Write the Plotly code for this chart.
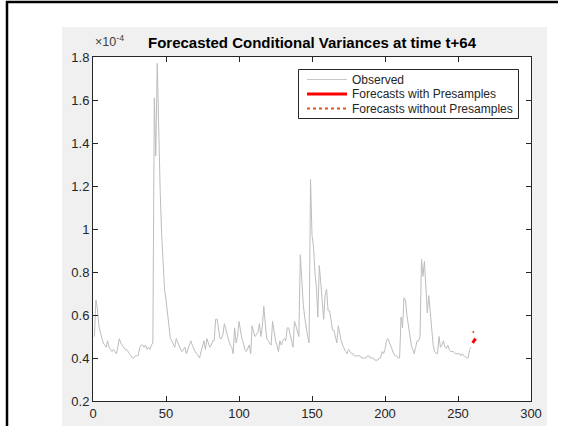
import plotly.graph_objects as go

# Observed conditional variances (units of 1e-4), t = 1..259
observed = [
    0.50, 0.67, 0.63, 0.55, 0.52, 0.49, 0.47, 0.46, 0.45, 0.48,
    0.45, 0.44, 0.43, 0.44, 0.43, 0.42, 0.45, 0.49, 0.47, 0.46,
    0.45, 0.44, 0.44, 0.43, 0.42, 0.41, 0.40, 0.40, 0.41, 0.41,
    0.41, 0.45, 0.46, 0.46, 0.45, 0.46, 0.44, 0.45, 0.44, 0.46,
    0.47, 1.61, 1.34, 1.77, 1.45, 1.18, 0.98, 0.82, 0.72, 0.67,
    0.60, 0.53, 0.49, 0.48, 0.46, 0.45, 0.49, 0.47, 0.45, 0.44,
    0.43, 0.44, 0.45, 0.42, 0.44, 0.45, 0.48, 0.46, 0.44, 0.43,
    0.42, 0.41, 0.40, 0.43, 0.45, 0.48, 0.44, 0.49, 0.47, 0.45,
    0.46, 0.48, 0.48, 0.58, 0.58, 0.52, 0.49, 0.49, 0.51, 0.56,
    0.53, 0.51, 0.48, 0.46, 0.45, 0.42, 0.54, 0.47, 0.50, 0.57,
    0.52, 0.49, 0.47, 0.44, 0.43, 0.45, 0.46, 0.42, 0.55, 0.52,
    0.50, 0.51, 0.52, 0.56, 0.50, 0.55, 0.64, 0.56, 0.49, 0.48,
    0.47, 0.46, 0.57, 0.51, 0.48, 0.46, 0.43, 0.48, 0.46, 0.48,
    0.49, 0.48, 0.54, 0.54, 0.50, 0.48, 0.45, 0.57, 0.55, 0.53,
    0.50, 0.88, 0.75, 0.65, 0.59, 0.53, 0.50, 0.47, 1.23, 0.97,
    0.92, 0.80, 0.73, 0.59, 0.83, 0.75, 0.67, 0.58, 0.69, 0.72,
    0.62, 0.62, 0.58, 0.53, 0.53, 0.50, 0.47, 0.55, 0.51, 0.48,
    0.46, 0.44, 0.43, 0.42, 0.44, 0.43, 0.42, 0.42, 0.41, 0.41,
    0.41, 0.41, 0.41, 0.40, 0.40, 0.40, 0.40, 0.41, 0.41, 0.40,
    0.40, 0.40, 0.39, 0.39, 0.39, 0.40, 0.40, 0.43, 0.42, 0.44,
    0.48, 0.49, 0.47, 0.45, 0.43, 0.42, 0.41, 0.41, 0.40, 0.40,
    0.59, 0.54, 0.68, 0.67, 0.60, 0.55, 0.50, 0.46, 0.44, 0.42,
    0.45, 0.48, 0.48, 0.50, 0.86, 0.78, 0.85, 0.72, 0.61, 0.69,
    0.60, 0.51, 0.46, 0.43, 0.42, 0.42, 0.50, 0.45, 0.46, 0.48,
    0.45, 0.445, 0.46, 0.44, 0.43, 0.43, 0.43, 0.42, 0.42, 0.42,
    0.42, 0.41, 0.42, 0.41, 0.405, 0.40, 0.40, 0.44, 0.45,
]
t_observed = list(range(1, len(observed) + 1))

t_fc_with = [260, 261, 262]
fc_with = [0.470, 0.480, 0.490]

t_fc_without = [260, 261]
fc_without = [0.520, 0.522]

x_ticks = [0, 50, 100, 150, 200, 250, 300]
y_ticks = [0.2, 0.4, 0.6, 0.8, 1.0, 1.2, 1.4, 1.6, 1.8]
y_ticklabels = ["0.2", "0.4", "0.6", "0.8", "1", "1.2", "1.4", "1.6", "1.8"]

title_text = "Forecasted Conditional Variances at time t+64"
legend_names = ["Observed", "Forecasts with Presamples", "Forecasts without Presamples"]

AX = "#262626"
FONT = "Liberation Sans, Arial, sans-serif"
C_OBS = "#bdbdbd"
C_WITH = "#ff0000"
C_WITHOUT = "#e8501a"

fig = go.Figure()
fig.add_trace(go.Scatter(x=t_observed, y=observed, mode="lines", name=legend_names[0],
                         line=dict(color=C_OBS, width=1), showlegend=False))
fig.add_trace(go.Scatter(x=t_fc_with, y=fc_with, mode="lines", name=legend_names[1],
                         line=dict(color=C_WITH, width=3), showlegend=False))
fig.add_trace(go.Scatter(x=t_fc_without, y=fc_without, mode="lines", name=legend_names[2],
                         line=dict(color=C_WITHOUT, width=2, dash="dot"), showlegend=False))

W, H = 561, 426
L, R, T, B = 93, 30, 57, 25
pw, ph = W - L - R, H - T - B

def px2x(px):
    return (px - L) / pw

def py2y(py):
    return (H - B - py) / ph

shapes = [
    dict(type="rect", xref="paper", yref="paper", x0=px2x(62), x1=px2x(547),
         y0=py2y(430), y1=py2y(27), fillcolor="#f0f0f0", line=dict(width=0), layer="below"),
    dict(type="rect", xref="paper", yref="paper", x0=0, x1=1, y0=0, y1=1,
         fillcolor="#ffffff", line=dict(width=0), layer="below"),
    dict(type="line", xref="paper", yref="paper", x0=px2x(7), x1=px2x(7),
         y0=py2y(430), y1=py2y(1), line=dict(color="#000000", width=2.5)),
    dict(type="line", xref="paper", yref="paper", x0=px2x(6), x1=px2x(558),
         y0=py2y(2), y1=py2y(2), line=dict(color="#000000", width=2.5)),
]

annotations = [
    dict(text="×10<sup>-4</sup>", xref="paper", yref="paper", x=px2x(93), y=py2y(41),
         xanchor="left", yanchor="middle", showarrow=False,
         font=dict(family=FONT, size=12.5, color="#404040")),
]

# Legend box drawn in the MATLAB style (compact rows)
leg_left, leg_right, leg_top, leg_bottom = 298.5, 518.5, 69.5, 118.5
shapes.append(dict(type="rect", xref="paper", yref="paper",
                   x0=px2x(leg_left), x1=px2x(leg_right),
                   y0=py2y(leg_bottom), y1=py2y(leg_top),
                   fillcolor="#ffffff", line=dict(color=AX, width=1)))
row_y = [79.5, 94, 108.5]
leg_styles = [dict(color="#c8c8c8", width=1), dict(color=C_WITH, width=3),
              dict(color=C_WITHOUT, width=2, dash="dot")]
for name, ry, st in zip(legend_names, row_y, leg_styles):
    shapes.append(dict(type="line", xref="paper", yref="paper",
                       x0=px2x(307), x1=px2x(347), y0=py2y(ry), y1=py2y(ry), line=st))
    annotations.append(dict(text=name, xref="paper", yref="paper", x=px2x(350), y=py2y(ry),
                            xanchor="left", yanchor="middle", showarrow=False,
                            font=dict(family=FONT, size=12, color=AX)))

fig.update_layout(
    width=W, height=H,
    margin=dict(l=L, r=R, t=T, b=B, pad=0),
    paper_bgcolor="#ffffff",
    plot_bgcolor="#ffffff",
    font=dict(family=FONT, color=AX, size=13),
    showlegend=False,
    shapes=shapes,
    annotations=annotations,
    title=dict(text="<b>" + title_text + "</b>", x=px2x(312), xref="paper", xanchor="center",
               y=1 - 43 / H, yref="container", yanchor="middle",
               font=dict(family=FONT, size=15, color="#000000")),
)

fig.update_xaxes(range=[0, 300], tickvals=x_ticks, ticks="inside", ticklen=5, tickcolor=AX,
                 showline=True, linecolor=AX, linewidth=1, mirror="ticks", showgrid=False,
                 zeroline=False, automargin=False, tickfont=dict(family=FONT, size=13, color=AX))
fig.update_yaxes(range=[0.2, 1.8], tickvals=y_ticks, ticktext=y_ticklabels, ticks="inside",
                 ticklen=5, tickcolor=AX, showline=True, linecolor=AX, linewidth=1,
                 mirror="ticks", showgrid=False, zeroline=False, automargin=False,
                 tickfont=dict(family=FONT, size=13, color=AX))

fig.write_html("out.html")
